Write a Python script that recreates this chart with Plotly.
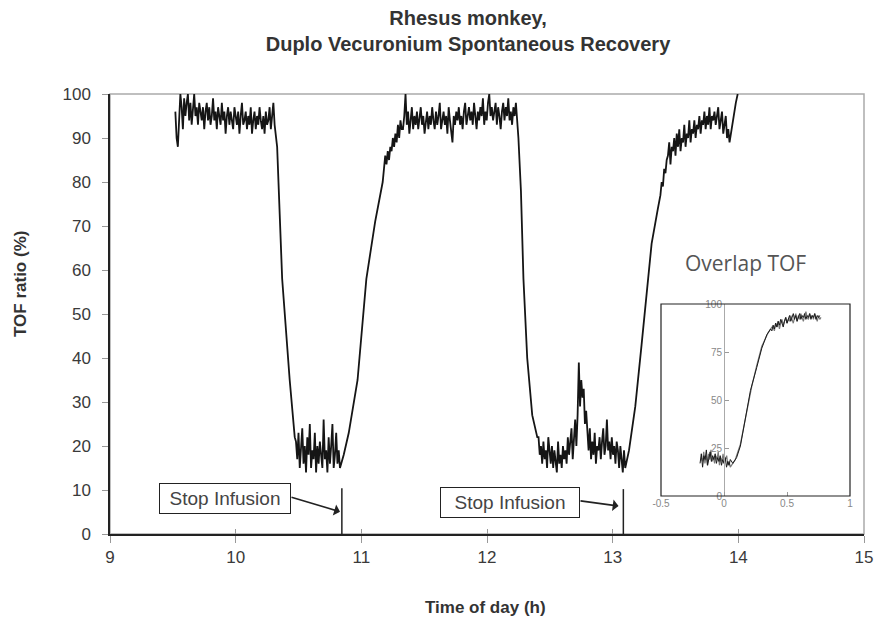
import numpy as np
import plotly.graph_objects as go

# ---------------- main recording (time of day in h, TOF ratio in %) ----------------
PLATEAU1_T = (9.52, 10.31)
PLATEAU1 = [96, 90, 88, 94, 100, 97, 92, 99, 95, 98, 100, 94, 98, 93, 97, 100, 95, 97, 93, 98,
            96, 94, 97, 92, 96, 98, 94, 97, 93, 95, 99, 94, 96, 92, 97, 95, 93, 98, 94, 96,
            91, 95, 97, 93, 96, 94, 92, 97, 95, 93, 96, 91, 95, 98, 93, 94, 96, 92, 95, 93,
            97, 91, 94, 96, 92, 95, 93, 97, 94, 92, 95, 91, 96, 93, 94, 97, 92, 95, 98, 93]
DROP1_T = [10.33, 10.37, 10.43, 10.47]
DROP1 = [88, 58, 35, 22]
BLOCK1_T = (10.48, 10.83)
BLOCK1 = [21, 17, 23, 15, 19, 24, 16, 20, 14, 22, 18, 25, 15, 19, 17, 23, 14, 20, 16, 21,
          18, 15, 26, 17, 19, 14, 22, 16, 20, 25, 15, 18, 23, 16, 19, 15]
RISE1_T = [10.86, 10.90, 10.97, 11.04, 11.11]
RISE1 = [18, 23, 35, 58, 71]
PLATEAU2_T = (11.17, 12.23)
PLATEAU2 = [80, 83, 86, 84, 87, 85, 88, 87, 90, 88, 91, 89, 93, 90, 94, 92,
            92, 95, 100, 93, 96, 91, 94, 97, 92, 95, 93, 96, 92, 94, 97, 93, 95, 91, 94, 96,
            92, 95, 93, 97, 94, 92, 96, 93, 95, 98, 92, 94, 96, 93, 95, 91, 97, 94, 92, 89,
            95, 93, 96, 94, 97, 93, 95, 92, 96, 98, 93, 95, 97, 94, 96, 93, 98, 95, 92, 96,
            94, 97, 95, 99, 93, 96, 94, 98, 100, 95, 97, 94, 96, 98, 93, 97, 95, 92, 96, 98,
            94, 97, 95, 99, 94, 96, 93, 97, 95, 98]
DROP2_T = [12.25, 12.27, 12.29, 12.32, 12.36, 12.40]
DROP2 = [90, 78, 58, 40, 27, 22]
BLOCK2_T = (12.41, 13.10)
BLOCK2 = [22, 18, 20, 16, 21, 17, 19, 15, 22, 18, 16, 20, 15, 19, 17, 14, 21, 16, 18, 15,
          20, 17, 19, 16, 22, 18, 21, 24, 17, 23, 26, 20, 27, 39, 29, 35, 31, 33, 25, 28,
          22, 19, 24, 17, 21, 18, 23, 16, 20, 19, 22, 17, 21, 24, 18, 20, 26, 19, 21, 17,
          22, 18, 20, 16, 21, 19, 15, 20, 17, 14, 19, 15]
RISE2_T = [13.13, 13.18, 13.23, 13.28, 13.31, 13.36]
RISE2 = [19, 29, 43, 57, 66, 74]
PLATEAU3_T = (13.38, 13.95)
PLATEAU3 = [77, 80, 79, 83, 82, 85,
            86, 89, 84, 88, 87, 90, 86, 91, 88, 92, 87, 90, 89, 93, 88, 91, 90, 94, 89, 92,
            91, 94, 90, 93, 92, 95, 91, 94, 93, 96, 92, 95, 93, 97, 92, 95, 94, 96, 93, 95,
            97, 92, 94, 96, 91, 93, 95, 90, 92, 89, 91, 93]
END_T = [13.965, 13.98, 13.995]
END = [95, 98, 100]

# ---------------- inset: overlapped recoveries (h after stop infusion) ----------------
INS_A_PRE_T = (-0.19, 0.05)
INS_A_PRE = [17, 22, 15, 21, 19, 24, 16, 20, 23, 18, 21, 19, 22, 17, 20, 18, 21, 16, 19, 17,
             20, 15, 18, 16, 19]
INS_A_RISE_T = [0.07, 0.10, 0.13, 0.17, 0.21, 0.26, 0.30, 0.34, 0.37]
INS_A_RISE = [17, 20, 26, 40, 55, 67, 77, 84, 87]
INS_A_POST_T = (0.38, 0.76)
INS_A_POST = [86, 89, 87, 90, 88, 91, 89, 92, 90, 88, 91, 93, 90, 92, 94, 91, 93, 95, 92, 94,
              91, 93, 95, 92, 94, 93, 95, 92, 94, 93, 95, 92, 94, 93, 95, 92, 94, 93, 94]

INS_B_PRE_T = (-0.18, 0.05)
INS_B_PRE = [20, 18, 23, 17, 21, 16, 22, 19, 24, 18, 20, 17, 21, 19, 23, 16, 20, 18, 22, 17,
             19, 21, 16, 18, 15]
INS_B_RISE_T = [0.06, 0.09, 0.13, 0.17, 0.22, 0.26, 0.30, 0.35, 0.38]
INS_B_RISE = [16, 19, 27, 41, 57, 68, 78, 85, 88]
INS_B_POST_T = (0.39, 0.77)
INS_B_POST = [88, 86, 90, 88, 91, 87, 90, 92, 89, 91, 93, 90, 92, 91, 94, 92, 90, 93, 95, 91,
              94, 92, 95, 93, 91, 94, 96, 93, 92, 95, 93, 94, 92, 95, 93, 91, 94, 92, 93]

STOP_TIMES = [10.845, 13.085]
X_TICKS = [9, 10, 11, 12, 13, 14, 15]
Y_TICKS = [0, 10, 20, 30, 40, 50, 60, 70, 80, 90, 100]
INS_X_TICKS = [-0.5, 0, 0.5, 1]
INS_X_LABELS = ["-0.5", "0", "0.5", "1"]
INS_Y_TICKS = [0, 25, 50, 75, 100]


def build(parts):
    xs, ys = [], []
    for t, v in parts:
        if isinstance(t, tuple):
            xs.extend(np.linspace(t[0], t[1], len(v)).tolist())
        else:
            xs.extend(t)
        ys.extend(v)
    return xs, ys


main_x, main_y = build([(PLATEAU1_T, PLATEAU1), (DROP1_T, DROP1), (BLOCK1_T, BLOCK1),
                        (RISE1_T, RISE1), (PLATEAU2_T, PLATEAU2), (DROP2_T, DROP2),
                        (BLOCK2_T, BLOCK2), (RISE2_T, RISE2), (PLATEAU3_T, PLATEAU3),
                        (END_T, END)])
ia_x, ia_y = build([(INS_A_PRE_T, INS_A_PRE), (INS_A_RISE_T, INS_A_RISE), (INS_A_POST_T, INS_A_POST)])
ib_x, ib_y = build([(INS_B_PRE_T, INS_B_PRE), (INS_B_RISE_T, INS_B_RISE), (INS_B_POST_T, INS_B_POST)])

fig = go.Figure()
fig.add_trace(go.Scatter(x=main_x, y=main_y, mode="lines",
                         line=dict(color="#151515", width=1.8), hoverinfo="skip"))
fig.add_trace(go.Scatter(x=ib_x, y=ib_y, mode="lines", xaxis="x2", yaxis="y2",
                         line=dict(color="#7a7a7a", width=1.2), hoverinfo="skip"))
fig.add_trace(go.Scatter(x=ia_x, y=ia_y, mode="lines", xaxis="x2", yaxis="y2",
                         line=dict(color="#1a1a1a", width=1.0), hoverinfo="skip"))
fig.add_trace(go.Scatter(x=[9], y=[0], mode="markers", xaxis="x3", yaxis="y",
                         marker=dict(size=0.1, opacity=0), hoverinfo="skip"))

W, H = 876, 620
ML, MR, MT, MB = 110, 12, 94, 86
PW, PH = W - ML - MR, H - MT - MB


def px(xp):
    return (xp - ML) / PW


def py(yp):
    return (H - MB - yp) / PH


ins_x0, ins_x1 = px(661), px(850)
ins_y0, ins_y1 = py(496), py(304)

tick_font = dict(family="Arial", size=17, color="#3a3a3a")
fig.update_layout(
    width=W, height=H,
    margin=dict(l=ML, r=MR, t=MT, b=MB, autoexpand=False),
    paper_bgcolor="white", plot_bgcolor="white",
    showlegend=False,
    font=dict(family="Arial", color="#333"),
    title=dict(text="Rhesus monkey,<br>Duplo Vecuronium Spontaneous Recovery",
               x=468 / W, xanchor="center", xref="container",
               y=1 - 25 / H, yanchor="middle", yref="container",
               font=dict(family="Arial", size=20, color="#333", weight="bold")),
    xaxis=dict(range=[9, 15], tickvals=X_TICKS, ticks="outside", ticklen=7, tickcolor="#999",
               showline=True, linecolor="#222", linewidth=1.5, showgrid=False, zeroline=False,
               tickfont=tick_font, domain=[0, 1], anchor="y", automargin=False),
    xaxis3=dict(range=[9, 15], tickvals=X_TICKS, ticks="inside", ticklen=5, tickcolor="#999",
                showticklabels=False, showline=False, showgrid=False, zeroline=False,
                overlaying="x", anchor="y", automargin=False),
    yaxis=dict(range=[0, 100], tickvals=Y_TICKS, ticks="outside", ticklen=6, tickcolor="#999",
               showline=True, linecolor="#222", linewidth=1.5, showgrid=False, zeroline=False,
               tickfont=tick_font, ticklabelstandoff=8, domain=[0, 1], anchor="x",
               automargin=False),
    xaxis2=dict(domain=[ins_x0, ins_x1], anchor="y2", range=[-0.5, 1],
                tickvals=INS_X_TICKS, ticktext=INS_X_LABELS, ticks="inside", ticklen=4,
                tickcolor="#999", showline=False, showgrid=False, zeroline=False,
                tickfont=dict(family="Arial", size=10, color="#888"), automargin=False),
    yaxis2=dict(domain=[ins_y0, ins_y1], anchor="free", position=ins_x0 + (ins_x1 - ins_x0) / 3,
                range=[0, 100], tickvals=INS_Y_TICKS, ticks="inside", ticklen=4,
                tickcolor="#999", showline=True, linecolor="#aaa", linewidth=1,
                showgrid=False, zeroline=False, automargin=False,
                tickfont=dict(family="Arial", size=10, color="#888")),
)

shapes = [
    dict(type="rect", xref="x domain", yref="y domain", x0=0, x1=1, y0=0, y1=1,
         line=dict(color="#aaa", width=1.5), layer="below"),
    dict(type="rect", xref="x2 domain", yref="y2 domain", x0=0, x1=1, y0=0, y1=1,
         line=dict(color="#222", width=1.2)),
    dict(type="line", xref="x", yref="y", x0=STOP_TIMES[0], x1=STOP_TIMES[0], y0=0, y1=10.4,
         line=dict(color="#222", width=1.5)),
    dict(type="line", xref="x", yref="y", x0=STOP_TIMES[1], x1=STOP_TIMES[1], y0=-1.4, y1=10.2,
         line=dict(color="#222", width=1.5)),
]
fig.update_layout(shapes=shapes)


def dx(xp):
    return 9 + (xp - ML) / PW * 6


def dy(yp):
    return (H - MB - yp) / PH * 100


ann = []
box_font = dict(family="Arial", size=19, color="#444")
ann.append(dict(x=dx(224.5), y=dy(498.5), xref="x", yref="y", text="Stop Infusion",
                showarrow=False, bordercolor="#222", borderwidth=1, borderpad=4,
                width=122, font=box_font, xanchor="center", yanchor="middle"))
ann.append(dict(x=dx(510), y=dy(502.5), xref="x", yref="y", text="Stop Infusion",
                showarrow=False, bordercolor="#222", borderwidth=1, borderpad=4,
                width=130, font=box_font, xanchor="center", yanchor="middle"))
ann.append(dict(x=dx(340), y=dy(511.7), ax=dx(290), ay=dy(496.7), xref="x", yref="y",
                axref="x", ayref="y", text="", showarrow=True, arrowhead=1, arrowsize=1.2,
                arrowwidth=1.6, arrowcolor="#222"))
ann.append(dict(x=dx(618.5), y=dy(506), ax=dx(579), ay=dy(500.7), xref="x", yref="y",
                axref="x", ayref="y", text="", showarrow=True, arrowhead=1, arrowsize=1.2,
                arrowwidth=1.6, arrowcolor="#222"))
ann.append(dict(x=px(745), y=py(263), xref="paper", yref="paper", text="Overlap TOF",
                xanchor="center", yanchor="middle",
                showarrow=False, font=dict(family="Open Sans", size=21, color="#555")))
ann.append(dict(x=px(485), y=py(607), xref="paper", yref="paper", text="<b>Time of day (h)</b>",
                xanchor="center", yanchor="middle",
                showarrow=False, font=dict(family="Arial", size=17, color="#333")))
ann.append(dict(x=px(20), y=py(284), xref="paper", yref="paper", text="<b>TOF ratio (%)</b>",
                xanchor="center", yanchor="middle",
                textangle=-90, showarrow=False, font=dict(family="Arial", size=17, color="#333")))
fig.update_layout(annotations=ann)

fig.write_html("out.html")
